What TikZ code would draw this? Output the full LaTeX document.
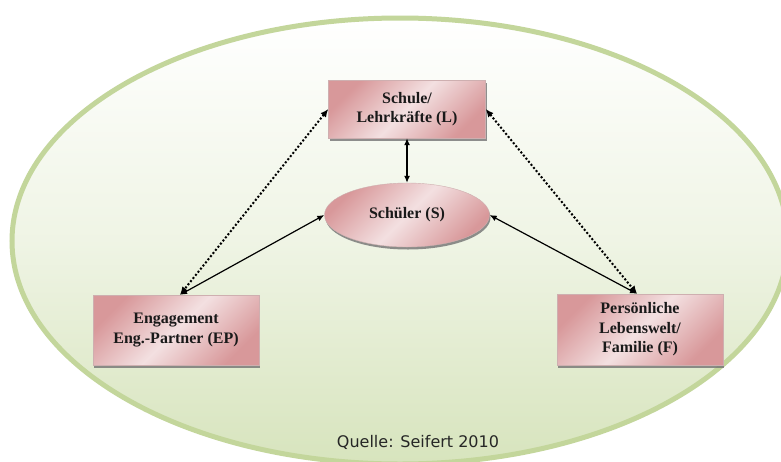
\documentclass[tikz,border=0pt]{standalone}
\usepackage{fontspec}
\setmainfont{Liberation Serif}
\newfontfamily\quellefont{DejaVu Sans}
\usetikzlibrary{arrows.meta,shapes.geometric,shadows}
\definecolor{pinkdark}{HTML}{D8989A}
\definecolor{pinklight}{HTML}{F3E0E1}
\definecolor{ringgreen}{HTML}{C3D69B}
\definecolor{fillgreen}{HTML}{D7E4BD}
\tikzset{
  boxnode/.style={rectangle, draw=pinkdark!80!black!60, line width=0.4pt,
    left color=pinkdark, right color=pinkdark, middle color=pinklight, shading angle=45,
    font=\bfseries\fontsize{16}{19.5}\selectfont, text=black!90, align=center, inner sep=0pt,
    drop shadow={shadow xshift=1pt, shadow yshift=-3pt, fill=black!55, opacity=0.8}},
  ellnode/.style={ellipse, draw=pinkdark!80!black!60, line width=0.4pt,
    left color=pinkdark, right color=pinkdark, middle color=pinklight, shading angle=45,
    font=\bfseries\fontsize{16}{19.5}\selectfont, text=black!90, inner sep=0pt,
    drop shadow={shadow xshift=1pt, shadow yshift=-2.5pt, fill=black!55, opacity=0.8}},
  solidarrow/.style={{Latex[length=7pt,width=6pt]}-{Latex[length=7pt,width=6pt]}, line width=1.2pt},
  dotarrow/.style={{Latex[length=8pt,width=7pt]}-{Latex[length=8pt,width=7pt]}, line width=2pt, dash pattern=on 2pt off 2pt}
}
\begin{document}
\begin{tikzpicture}[x=1pt,y=-1pt]
\useasboundingbox (0,0) rectangle (781,461);
\clip (0,0) rectangle (781,461);
\fill[white] (0,0) rectangle (781,461);
% big ellipse
\shade[top color=white, bottom color=fillgreen, middle color=fillgreen!40]
  (400,241) ellipse [x radius=388, y radius=223];
\draw[ringgreen, line width=5pt] (400,241) ellipse [x radius=388, y radius=223];
% nodes
\node[boxnode, minimum width=157pt, minimum height=58pt] (L) at (407,109) {Schule/\\Lehrkräfte (L)};
\node[ellnode, minimum width=165pt, minimum height=64pt] (S) at (407,215) {Schüler (S)};
\node[boxnode, minimum width=166pt, minimum height=70pt] (EP) at (176,330) {Engagement\\Eng.-Partner (EP)};
\node[boxnode, minimum width=166pt, minimum height=71pt] (F) at (640,329.5) {Persönliche\\Lebenswelt/\\Familie (F)};
% connectors
\coordinate (EPtop) at ([xshift=4pt]EP.north);
\coordinate (Ftop) at ([xshift=-3pt]F.north);
\draw[solidarrow] (L.south) -- (S.north);
\draw[solidarrow] (S.west) -- (EPtop);
\draw[solidarrow] (S.east) -- (Ftop);
\draw[dotarrow] (L.west) -- (EPtop);
\draw[dotarrow] (L.east) -- (Ftop);
% source
\node[font=\quellefont\fontsize{16}{18}\selectfont, text=black!85] (Q) at (418,442) {Quelle: Seifert 2010};
\end{tikzpicture}
\end{document}
